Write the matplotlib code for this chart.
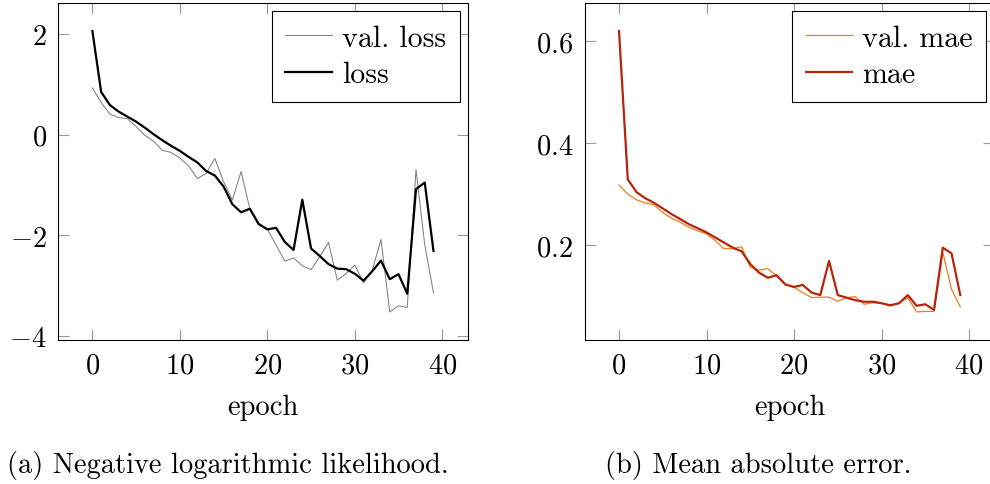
import matplotlib
matplotlib.use("Agg")
import matplotlib.pyplot as plt
import numpy as np

# ---------------- data ----------------
epochs = list(range(40))

val_loss = [0.93, 0.64, 0.41, 0.34, 0.32, 0.16, -0.01, -0.13, -0.31, -0.35,
            -0.46, -0.62, -0.87, -0.77, -0.47, -0.93, -1.30, -0.73, -1.47, -1.79,
            -1.87, -2.19, -2.51, -2.45, -2.60, -2.68, -2.42, -2.14, -2.89, -2.76,
            -2.59, -2.94, -2.69, -2.08, -3.52, -3.40, -3.43, -0.69, -2.19, -3.14]
loss = [2.06, 0.85, 0.59, 0.46, 0.36, 0.26, 0.14, 0.01, -0.11, -0.22,
        -0.32, -0.44, -0.55, -0.72, -0.81, -1.03, -1.38, -1.54, -1.47, -1.77,
        -1.88, -1.85, -2.13, -2.29, -1.29, -2.26, -2.41, -2.57, -2.66, -2.67,
        -2.76, -2.90, -2.71, -2.50, -2.87, -2.77, -3.16, -1.08, -0.95, -2.31]

val_mae = [0.318, 0.300, 0.289, 0.283, 0.279, 0.264, 0.253, 0.245, 0.235, 0.228,
           0.222, 0.209, 0.193, 0.193, 0.197, 0.157, 0.151, 0.154, 0.140, 0.123,
           0.117, 0.107, 0.097, 0.098, 0.098, 0.090, 0.097, 0.099, 0.084, 0.087,
           0.086, 0.081, 0.086, 0.097, 0.069, 0.070, 0.070, 0.186, 0.113, 0.079]
mae = [0.620, 0.329, 0.304, 0.292, 0.283, 0.272, 0.261, 0.251, 0.241, 0.233,
       0.225, 0.215, 0.205, 0.195, 0.188, 0.163, 0.146, 0.136, 0.141, 0.123,
       0.118, 0.122, 0.107, 0.102, 0.169, 0.102, 0.097, 0.092, 0.089, 0.089,
       0.086, 0.082, 0.086, 0.102, 0.081, 0.084, 0.073, 0.195, 0.184, 0.102]

xticks = [0, 10, 20, 30, 40]
yticks_left = [-4, -2, 0, 2]
yticks_right = [0.2, 0.4, 0.6]
xlabel = "epoch"
caption_a = "(a) Negative logarithmic likelihood."
caption_b = "(b) Mean absolute error."

# ---------------- style ----------------
FS = 20.5
LFS = 21.5
plt.rcParams.update({
    "font.family": "cmr10",
    "mathtext.fontset": "cm",
    "axes.formatter.use_mathtext": True,
    "font.size": FS,
    "axes.unicode_minus": True,
})

W, H = 990, 485
fig = plt.figure(figsize=(W / 100, H / 100), dpi=100)


def px_axes(x0, x1, ytop, ybot):
    return fig.add_axes([x0 / W, (H - ybot) / H, (x1 - x0) / W, (ybot - ytop) / H])


def enlarge(vals, frac=0.1):
    lo, hi = min(vals), max(vals)
    d = (hi - lo) * frac
    return lo - d, hi + d


def style(ax):
    for s in ax.spines.values():
        s.set_linewidth(0.8)
        s.set_color("black")
    ax.tick_params(direction="in", top=True, right=True, length=7.6, width=0.8,
                   color="#9a9a9a", labelsize=FS)
    ax.tick_params(axis="x", pad=9)
    ax.tick_params(axis="y", pad=8.4)
    ax.set_xlabel(xlabel, fontsize=FS)
    ax.xaxis.label.set_va("baseline")
    ax.xaxis.set_label_coords(0.5, (341 - 415) / 337)


legend_kw = dict(loc="upper right", fontsize=LFS, frameon=True, fancybox=False,
                 framealpha=1, edgecolor="black", borderpad=0.45, labelspacing=0.3,
                 handlelength=1.55, handletextpad=0.35, borderaxespad=0.27)

# left panel
ax1 = px_axes(58.3, 467.6, 4, 341)
ax1.plot(epochs, val_loss, color="#808080", lw=0.75, label="val. loss")
ax1.plot(epochs, loss, color="black", lw=1.6, label="loss")
ax1.set_xlim(enlarge(epochs))
ax1.set_ylim(enlarge(val_loss + loss))
ax1.set_xticks(xticks)
ax1.set_yticks(yticks_left)
style(ax1)
leg = ax1.legend(**legend_kw)
leg.get_frame().set_linewidth(0.8)

# right panel
ax2 = px_axes(584.9, 994.4, 4, 341)
ax2.plot(epochs, val_mae, color="#ee7d1a", lw=0.9, label="val. mae")
ax2.plot(epochs, mae, color="#b5250c", lw=1.6, label="mae")
ax2.set_xlim(enlarge(epochs))
ax2.set_ylim(enlarge(val_mae + mae))
ax2.set_xticks(xticks)
ax2.set_yticks(yticks_right)
style(ax2)
leg = ax2.legend(**legend_kw)
leg.get_frame().set_linewidth(0.8)

# captions
fig.text(7 / W, 11.7 / H, caption_a, fontsize=FS, ha="left", va="baseline")
fig.text(605 / W, 11.7 / H, caption_b, fontsize=FS, ha="left", va="baseline")

fig.savefig("out.png", dpi=100)
